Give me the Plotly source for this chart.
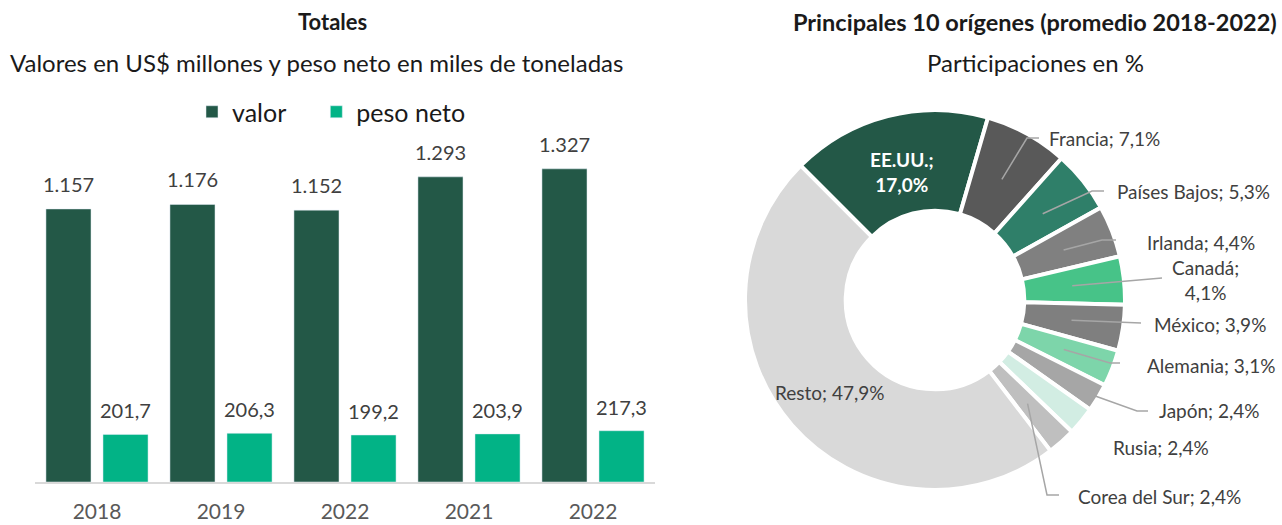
import math
import plotly.graph_objects as go

# ---------------- data ----------------
years = ["2018", "2019", "2022", "2021", "2022"]
valor = [1157, 1176, 1152, 1293, 1327]
peso_neto = [201.7, 206.3, 199.2, 203.9, 217.3]

paises = ["EE.UU.", "Francia", "Países Bajos", "Irlanda", "Canadá", "México",
          "Alemania", "Japón", "Rusia", "Corea del Sur", "Resto"]
participacion = [17.0, 7.1, 5.3, 4.4, 4.1, 3.9, 3.1, 2.4, 2.4, 2.4, 47.9]

# ---------------- styles ----------------
W, H = 1282, 525
FONT = "Lato"
TXT = "#404040"
C_VALOR = "#235847"
C_PESO = "#02B386"
pie_colors = ["#235847", "#595959", "#2F7F69", "#808080", "#47C388", "#7F7F7F",
              "#7DD5AA", "#A6A6A6", "#D2EDE3", "#BFBFBF", "#D9D9D9"]
BARGAP, BARGROUPGAP = 0.08, 0.21
NBSP = "\u00a0"


def px(x):
    return x / W


def py(y):
    return 1 - y / H


# pie geometry (pixels)
CX, CY, R_OUT, HOLE = 935, 300, 190, 0.47
ROT = -45


def polar(angle_deg, r):
    a = math.radians(angle_deg)
    return CX + r * math.sin(a), CY - r * math.cos(a)


fig = go.Figure()

x_idx = list(range(len(years)))
fig.add_trace(go.Bar(x=x_idx, y=valor, name="valor" + NBSP * 4, marker_color=C_VALOR))
fig.add_trace(go.Bar(x=x_idx, y=peso_neto, name="peso neto", marker_color=C_PESO))

fig.add_trace(go.Pie(
    labels=paises, values=participacion, sort=False, direction="clockwise",
    rotation=ROT, hole=HOLE, textinfo="none", showlegend=False,
    marker=dict(colors=pie_colors, line=dict(color="white", width=4)),
    domain=dict(x=[px(CX - R_OUT), px(CX + R_OUT)], y=[py(CY + R_OUT), py(CY - R_OUT)]),
))

# cumulative angles
total = sum(participacion)
mids = []
acc = ROT
for v in participacion:
    span = v / total * 360
    mids.append(acc + span / 2)
    acc += span


def fmt_pct(v):
    return f"{v:.1f}".replace(".", ",") + "%"


annotations = []
shapes = []

# bar data labels (placed on the axes scale, above each bar)
slot = (1 - BARGAP) / 2
for i in x_idx:
    annotations.append(dict(x=i - slot / 2, y=valor[i], xref="x", yref="y",
                            text=f"{valor[i]:,}".replace(",", "."), yshift=25,
                            font=dict(size=20, color=TXT)))
    annotations.append(dict(x=i + slot / 2, y=peso_neto[i], xref="x", yref="y",
                            text=f"{peso_neto[i]:.1f}".replace(".", ","), yshift=24,
                            font=dict(size=20, color=TXT)))

# titles
annotations += [
    dict(x=px(332), y=py(22), text="<b>Totales</b>", font=dict(size=22, color="#1a1a1a")),
    dict(x=px(316), y=py(62), text="Valores en US$ millones y peso neto en miles de toneladas",
         font=dict(size=24, color="#1a1a1a")),
    dict(x=px(1035), y=py(22), text="<b>Principales 10 orígenes (promedio 2018-2022)</b>",
         font=dict(size=23.5, color="#1a1a1a")),
    dict(x=px(1035), y=py(62), text="Participaciones en %", font=dict(size=24, color="#1a1a1a")),
]

# inside label EE.UU.
ex, ey = polar(mids[0], 132)
annotations.append(dict(x=px(ex), y=py(ey), text=f"<b>{paises[0]};<br>{fmt_pct(participacion[0])}</b>",
                        font=dict(size=19, color="white")))
# Resto label
rx, ry = polar(mids[-1], 140)
annotations.append(dict(x=px(rx), y=py(ry), text=f"{paises[-1]}; {fmt_pct(participacion[-1])}",
                        font=dict(size=19, color=TXT)))

# outside labels with leader lines: (anchor radius, path points after anchor, text pos, xanchor)
label_layout = {
    "Francia": (138, [(1027, 138), (1039, 138)], (1047, 138), "left"),
    "Países Bajos": (138, [(1092, 191), (1104, 191)], (1115, 192), "left"),
    "Irlanda": (138, [(1102, 240), (1116, 240)], (1145, 242), "left"),
    "Canadá": (138, [(1162, 278)], (1205, 280), "center"),
    "México": (138, [(1141, 323)], (1152, 324), "left"),
    "Alemania": (138, [(1110, 363), (1120, 363)], (1145, 365), "left"),
    "Japón": (186, [(1137, 411), (1148, 411)], (1157, 410), "left"),
    "Rusia": (None, [], (1111, 447), "left"),
    "Corea del Sur": (139, [(1047, 495), (1059, 495)], (1076, 496), "left"),
}

for i, name in enumerate(paises):
    if name not in label_layout:
        continue
    r_anchor, pts, (tx, ty), xa = label_layout[name]
    if name == "Canadá":
        txt = f"{name};<br>{fmt_pct(participacion[i])}"
    else:
        txt = f"{name}; {fmt_pct(participacion[i])}"
    annotations.append(dict(x=px(tx), y=py(ty), text=txt, xanchor=xa,
                            font=dict(size=19, color=TXT)))
    if r_anchor is not None:
        ax_, ay_ = polar(mids[i], r_anchor)
        path = f"M {px(ax_)},{py(ay_)}" + "".join(f" L {px(a)},{py(b)}" for a, b in pts)
        shapes.append(dict(type="path", xref="paper", yref="paper", path=path,
                           line=dict(color="#A6A6A6", width=1.5), layer="above"))

for a in annotations:
    a.setdefault("xref", "paper")
    a.setdefault("yref", "paper")
    a.setdefault("showarrow", False)
    a.setdefault("xanchor", "center")
    a.setdefault("yanchor", "middle")
    a["font"].setdefault("family", FONT)

fig.update_layout(
    width=W, height=H, margin=dict(l=0, r=0, t=0, b=0),
    paper_bgcolor="white", plot_bgcolor="white",
    font=dict(family=FONT, color=TXT),
    barmode="group", bargap=BARGAP, bargroupgap=BARGROUPGAP,
    showlegend=True,
    legend=dict(orientation="h", x=px(192), xanchor="left", y=py(112), yanchor="middle",
                font=dict(size=25, color="#1a1a1a", family=FONT), itemwidth=30,
                bgcolor="rgba(0,0,0,0)"),
    xaxis=dict(domain=[px(35), px(655)], range=[-0.5, 4.5], tickmode="array",
               tickvals=x_idx, ticktext=years, showline=True, linecolor="#D9D9D9",
               linewidth=2, ticks="", showgrid=False, zeroline=False,
               tickfont=dict(size=21, color="#595959", family=FONT), ticklabelstandoff=10),
    yaxis=dict(domain=[py(482), py(104.4)], range=[0, 1600], visible=False, showgrid=False),
    annotations=annotations, shapes=shapes,
)

fig.write_html("out.html", config={"displayModeBar": False},
               post_script="document.body.style.margin='0px';")
